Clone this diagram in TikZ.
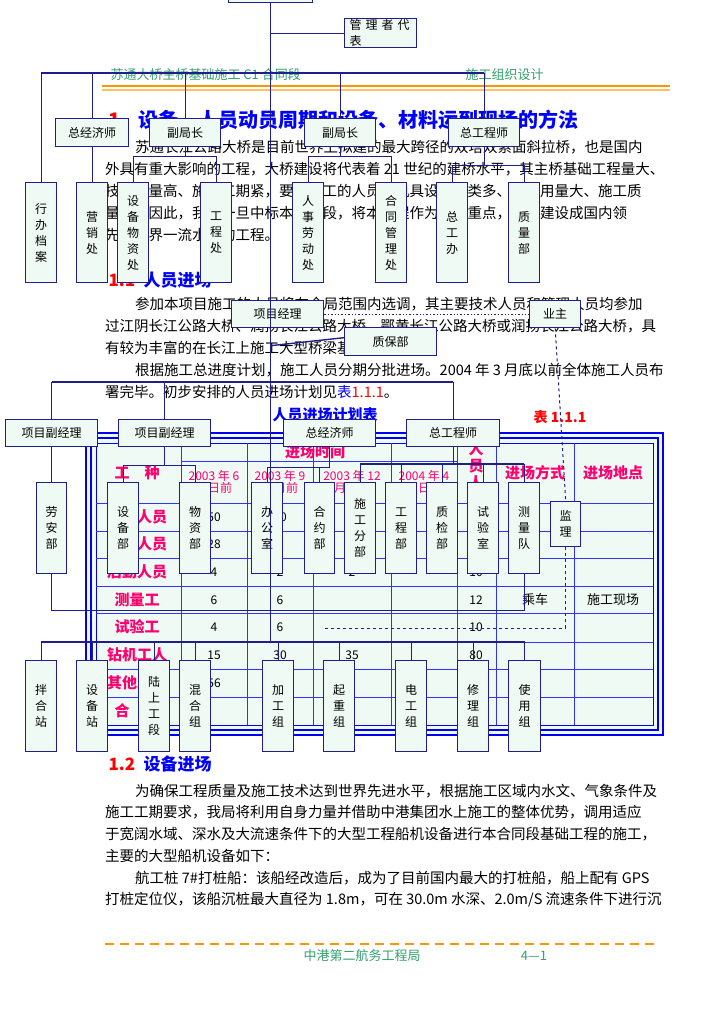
\documentclass[tikz,border=0pt]{standalone}
\usepackage{fontspec}
\setmainfont{Noto Sans CJK SC}
\usepackage{tikz}
\usepackage{xcolor}
\definecolor{navy}{RGB}{30,30,140}
\definecolor{boxfill}{RGB}{240,250,245}
\definecolor{tblue}{RGB}{0,0,245}
\definecolor{hgreen}{RGB}{50,160,110}
\definecolor{horange}{RGB}{255,150,0}
\definecolor{tpink}{RGB}{255,0,110}
\tikzset{
	orgbox/.style={draw=navy, fill=boxfill, line width=1.4pt, inner sep=1pt, anchor=north west, align=center, font=\fontsize{12}{16}\selectfont},
	link/.style={draw=navy, line width=1.4pt},
	bodyline/.style={anchor=west, inner sep=0pt, font=\fontsize{14.5}{14.5}\selectfont},
	cell/.style={inner sep=0pt, font=\fontsize{12}{12}\selectfont},
	rowlab/.style={inner sep=0pt, text=tpink, font=\fontsize{15}{15}\selectfont\bfseries},
}
\begin{document}
\begin{tikzpicture}[x=1pt, y=-1pt]
		\useasboundingbox (0,0) rectangle (724,1024);
		\fill[white] (0,0) rectangle (724,1024);
		
		% header and footer of the page
		\node[anchor=west, text=hgreen, font=\fontsize{13}{13}\selectfont] (hdl) at (107,75) {苏通大桥主桥基础施工 C1 合同段};
		\node[anchor=west, text=hgreen, font=\fontsize{13}{13}\selectfont] (hdr) at (462,75) {施工组织设计};
		\draw[horange, line width=2pt] (102,86) -- (670,86);
		\draw[horange!60, line width=1.2pt] (102,90) -- (670,90);
		\draw[horange, line width=1.5pt, dash pattern=on 9pt off 6pt] (105,944) -- (657,944);
		\node[text=hgreen, font=\fontsize{13}{13}\selectfont] (ftl) at (362,956) {中港第二航务工程局};
		\node[text=hgreen, font=\fontsize{13}{13}\selectfont] (ftr) at (534,956) {4—1};
		
		% body text
		\node[anchor=west, text=red, font=\fontsize{20}{20}\selectfont\bfseries] (h1n) at (105,120) {1};
		\node[anchor=west, text=blue, font=\fontsize{20}{20}\selectfont\bfseries] (h1) at (135,120) {设备、人员动员周期和设备、材料运到现场的方法};
		\node[bodyline] at (135,147) {苏通长江公路大桥是目前世界上拟建的最大跨径的双塔双索面斜拉桥，也是国内};
		\node[bodyline] at (105,169) {外具有重大影响的工程，大桥建设将代表着 21 世纪的建桥水平，其主桥基础工程量大、};
		\node[bodyline] at (105,191) {技术含量高、施工工期紧，要求施工的人员及机具设备种类多、材料用量大、施工质};
		\node[bodyline] at (105,213) {量高。因此，我局一旦中标本合同段，将本工程作为全局重点，将其建设成国内领};
		\node[bodyline] at (105,235) {先、世界一流水平的工程。};
		\node[anchor=west, text=red, font=\fontsize{17}{17}\selectfont\bfseries] (h11n) at (105,280) {1.1};
		\node[anchor=west, text=blue, font=\fontsize{17}{17}\selectfont\bfseries] (h11) at (140,280) {人员进场};
		\node[bodyline] at (135,304) {参加本项目施工的人员将在全局范围内选调，其主要技术人员和管理人员均参加};
		\node[bodyline] at (105,326) {过江阴长江公路大桥、润扬长江公路大桥、鄂黄长江公路大桥或润扬长江公路大桥，具};
		\node[bodyline] at (105,348) {有较为丰富的在长江上施工大型桥梁基础的经验。};
		\node[bodyline] at (135,370) {根据施工总进度计划，施工人员分期分批进场。2004 年 3 月底以前全体施工人员布};
		\node[bodyline] at (105,392) {署完毕。初步安排的人员进场计划见\textcolor{blue}{表}\textcolor{red}{ 1.1.1}。};
		\node[text=blue, font=\fontsize{15}{15}\selectfont\bfseries] (ttl) at (325,415) {人员进场计划表};
		\node[text=red, font=\fontsize{14}{14}\selectfont\bfseries] (tno) at (560,417) {表 1.1.1};
		\node[anchor=west, text=red, font=\fontsize{17}{17}\selectfont\bfseries] (h12n) at (105,764) {1.2};
		\node[anchor=west, text=blue, font=\fontsize{17}{17}\selectfont\bfseries] (h12) at (140,764) {设备进场};
		\node[bodyline] at (135,791) {为确保工程质量及施工技术达到世界先进水平，根据施工区域内水文、气象条件及};
		\node[bodyline] at (105,812) {施工工期要求，我局将利用自身力量并借助中港集团水上施工的整体优势，调用适应};
		\node[bodyline] at (105,834) {于宽阔水域、深水及大流速条件下的大型工程船机设备进行本合同段基础工程的施工，};
		\node[bodyline] at (105,856) {主要的大型船机设备如下：};
		\node[bodyline] at (135,878) {航工桩 7\#打桩船：该船经改造后，成为了目前国内最大的打桩船，船上配有 GPS};
		\node[bodyline] at (105,900) {打桩定位仪，该船沉桩最大直径为 1.8m，可在 30.0m 水深、2.0m/S 流速条件下进行沉};
		
		% table
		\draw[tblue, line width=2.5pt, fill=boxfill] (86,433) rectangle (663,735);
		\draw[tblue, line width=2pt] (91,438) rectangle (658,730);
		\draw[tblue, line width=1pt] (96,443) rectangle (653,725);
		\foreach \cx in {181, 247, 313, 391, 457, 496, 574} {
			\draw[tblue!80, line width=0.8pt] (\cx,443) -- (\cx,725);
		}
		\foreach \ry in {503, 531, 558, 586, 613, 642, 669, 697} {
			\draw[tblue!80, line width=0.8pt] (96,\ry) -- (653,\ry);
		}
		\draw[tblue!80, line width=0.8pt] (181,461) -- (457,461);
		\node[rowlab] at (315,452) {进场时间};
		\node[rowlab] at (137,473) {工\quad 种};
		\node[cell, text=tpink, align=center] at (214,482) {2003 年 6\\月日前};
		\node[cell, text=tpink, align=center] at (280,482) {2003 年 9\\月日前};
		\node[cell, text=tpink, align=center] at (352,482) {2003 年 12\\月日前};
		\node[cell, text=tpink, align=center] at (424,482) {2004 年 4\\月日前};
		\node[rowlab, align=center, font=\fontsize{15}{17}\selectfont\bfseries] at (476,474) {人\\员\\人\\数};
		\node[rowlab] at (535,473) {进场方式};
		\node[rowlab] at (613,473) {进场地点};
		\node[rowlab] at (137,517) {管理人员};
		\node[rowlab] at (137,544) {技术人员};
		\node[rowlab] at (137,572) {后勤人员};
		\node[rowlab] at (137,600) {测量工};
		\node[rowlab] at (137,627) {试验工};
		\node[rowlab] at (137,655) {钻机工人};
		\node[rowlab] at (137,683) {其他工人};
		\node[rowlab] at (137,711) {合\quad 计};
		\node[cell] at (214,517) {50};
		\node[cell] at (280,517) {10};
		\node[cell] at (214,544) {28};
		\node[cell] at (280,544) {2};
		\node[cell] at (214,572) {4};
		\node[cell] at (280,572) {2};
		\node[cell] at (352,572) {2};
		\node[cell] at (476,572) {10};
		\node[cell] at (214,600) {6};
		\node[cell] at (280,600) {6};
		\node[cell] at (476,600) {12};
		\node[cell] at (214,627) {4};
		\node[cell] at (280,627) {6};
		\node[cell] at (476,627) {10};
		\node[cell] at (214,655) {15};
		\node[cell] at (280,655) {30};
		\node[cell] at (352,655) {35};
		\node[cell] at (476,655) {80};
		\node[cell] at (214,683) {56};
		\node[cell] at (352,683) {5};
		\node[cell, font=\fontsize{13}{13}\selectfont] at (535,600) {乘车};
		\node[cell, font=\fontsize{13}{13}\selectfont] at (613,600) {施工现场};
		
		% first organisation tree
		\node[orgbox, minimum width=84pt, minimum height=31pt] (jz) at (228,-29) {};
		\node[orgbox, minimum width=72pt, minimum height=28pt, align=left, text width=62pt] (glzdb) at (344,18) {管 理 者 代 表};
		\node[orgbox, minimum width=73pt, minimum height=28pt] (zjjs) at (55,118) {总经济师};
		\node[orgbox, minimum width=71pt, minimum height=28pt] (fjza) at (149,118) {副局长};
		\node[orgbox, minimum width=71pt, minimum height=28pt] (fjzb) at (304,118) {副局长};
		\node[orgbox, minimum width=71pt, minimum height=28pt] (zgcs) at (448,118) {总工程师};
		\node[orgbox, minimum width=31pt, minimum height=100pt] (xbda) at (25,182) {行\\办\\档\\案};
		\node[orgbox, minimum width=31pt, minimum height=100pt] (yxc) at (76,182) {营\\销\\处};
		\node[orgbox, minimum width=31pt, minimum height=100pt] (sbwz) at (117,182) {设\\备\\物\\资\\处};
		\node[orgbox, minimum width=31pt, minimum height=100pt] (gcc) at (200,182) {工\\程\\处};
		\node[orgbox, minimum width=31pt, minimum height=100pt] (rsld) at (292,182) {人\\事\\劳\\动\\处};
		\node[orgbox, minimum width=31pt, minimum height=100pt] (htgl) at (375,182) {合\\同\\管\\理\\处};
		\node[orgbox, minimum width=31pt, minimum height=100pt] (zgb) at (436,182) {总\\工\\办};
		\node[orgbox, minimum width=31pt, minimum height=100pt] (zlb) at (508,182) {质\\量\\部};
		\coordinate (busa) at (0,73);
		\draw[link] (jz.south) -- (jz.south |- glzdb.west) -- (glzdb.west);
		\draw[link] (xbda.north |- busa) -- (zgcs.north |- busa);
		\foreach \n in {xbda, zjjs, fjza, fjzb, zgcs} {
			\draw[link] (\n.north) -- (\n.north |- busa);
		}
		\draw[link] (zjjs.south) -- (yxc.north);
		\draw[link] (fjza.south) -- ++(0,9) -| (sbwz.north);
		\draw[link] (fjza.south) ++(0,9) -| (gcc.north);
		\draw[link] (fjzb.south) -- ++(0,9) -| (rsld.north);
		\draw[link] (fjzb.south) ++(0,9) -| (htgl.north);
		\draw[link] (zgcs.south) -- ++(0,18) -| (zgb.north);
		\draw[link] (zgcs.south) ++(0,18) -| (zlb.north);
		
		% second organisation tree
		\node[orgbox, minimum width=92pt, minimum height=27pt] (xmjl) at (231,300) {项目经理};
		\node[orgbox, minimum width=51pt, minimum height=27pt] (yz) at (529,300) {业主};
		\node[orgbox, minimum width=92pt, minimum height=28pt] (zbb) at (344,327) {质保部};
		\node[orgbox, minimum width=92pt, minimum height=27pt] (xmfa) at (5,419) {项目副经理};
		\node[orgbox, minimum width=92pt, minimum height=27pt] (xmfb) at (118,419) {项目副经理};
		\node[orgbox, minimum width=92pt, minimum height=27pt] (zjjsb) at (283,419) {总经济师};
		\node[orgbox, minimum width=93pt, minimum height=27pt] (zgcsb) at (406,419) {总工程师};
		\node[orgbox, minimum width=30pt, minimum height=91pt] (lab) at (36,482) {劳\\安\\部};
		\node[orgbox, minimum width=31pt, minimum height=91pt] (sbb) at (107,482) {设\\备\\部};
		\node[orgbox, minimum width=31pt, minimum height=91pt] (wzb) at (179,482) {物\\资\\部};
		\node[orgbox, minimum width=31pt, minimum height=91pt] (bgs) at (251,482) {办\\公\\室};
		\node[orgbox, minimum width=30pt, minimum height=91pt] (hyb) at (304,482) {合\\约\\部};
		\node[orgbox, minimum width=31pt, minimum height=91pt] (sgfb) at (344,482) {施\\工\\分\\部};
		\node[orgbox, minimum width=31pt, minimum height=91pt] (gcb) at (385,482) {工\\程\\部};
		\node[orgbox, minimum width=31pt, minimum height=91pt] (zjb) at (426,482) {质\\检\\部};
		\node[orgbox, minimum width=31pt, minimum height=91pt] (sys) at (467,482) {试\\验\\室};
		\node[orgbox, minimum width=31pt, minimum height=91pt] (clq) at (508,482) {测\\量\\队};
		\node[orgbox, minimum width=30pt, minimum height=45pt] (jl) at (550,501) {监\\理};
		\coordinate (busb) at (0,382);
		\coordinate (busz) at (0,464);
		\coordinate (busc) at (0,642);
		\coordinate (jlend) at (324,628);
		\draw[link, dotted] (xmjl.east) -- (yz.west);
		\draw[link, line width=1pt, dashed] (yz.south) -- (jl.north);
		\draw[link, line width=1pt, dashed] (jl.south) |- (jlend);
		\draw[link] (jz.south |- zbb.west) ++(0,4) -- ([yshift=4pt]zbb.west);
		\draw[link] (xmfa.north |- busb) -- (zgcsb.north |- busb);
		\foreach \n in {xmfa, xmfb, zgcsb} {
			\draw[link] (\n.north) -- (\n.north |- busb);
		}
		\draw[link] (xmfa.south) -- (lab.north);
		\draw[link] (lab.south) -- ++(0,36) -| (clq.south);
		\draw[link] (xmfb.south) -- ++(0,18) -| (sbb.north);
		\draw[link] (xmfb.south) ++(0,18) -| (wzb.north);
		\draw[link] (zjjsb.south) -- ++(0,20) -| (bgs.north);
		\draw[link] (zjjsb.south) ++(0,20) -| (hyb.north);
		\draw[link] (zgcsb.south) -- (zgcsb.south |- busz);
		\draw[link] (sgfb.north |- busz) -- (clq.north |- busz);
		\foreach \n in {sgfb, gcb, zjb, sys, clq} {
			\draw[link] (\n.north) -- (\n.north |- busz);
		}
		
		% third organisation tree
		\node[orgbox, minimum width=31pt, minimum height=91pt] (hzz) at (25,660) {拌\\合\\站};
		\node[orgbox, minimum width=31pt, minimum height=91pt] (sbz) at (76,660) {设\\备\\站};
		\node[orgbox, minimum width=31pt, minimum height=91pt] (lsgd) at (138,660) {陆\\上\\工\\段};
		\node[orgbox, minimum width=31pt, minimum height=91pt] (hhz) at (179,660) {混\\合\\组};
		\node[orgbox, minimum width=31pt, minimum height=91pt] (jgz) at (262,660) {加\\工\\组};
		\node[orgbox, minimum width=31pt, minimum height=91pt] (qzz) at (323,660) {起\\重\\组};
		\node[orgbox, minimum width=31pt, minimum height=91pt] (dgz) at (395,660) {电\\工\\组};
		\node[orgbox, minimum width=31pt, minimum height=91pt] (xlz) at (457,660) {修\\理\\组};
		\node[orgbox, minimum width=32pt, minimum height=91pt] (syz) at (508,660) {使\\用\\组};
		\draw[link] (jz.south) -- (jz.south |- busc);
		\draw[link] (hzz.north |- busc) -- (syz.north |- busc);
		\foreach \n in {hzz, sbz, lsgd, hhz, jgz, qzz, dgz, xlz, syz} {
			\draw[link] (\n.north) -- (\n.north |- busc);
		}
	\end{tikzpicture}
\end{document}
